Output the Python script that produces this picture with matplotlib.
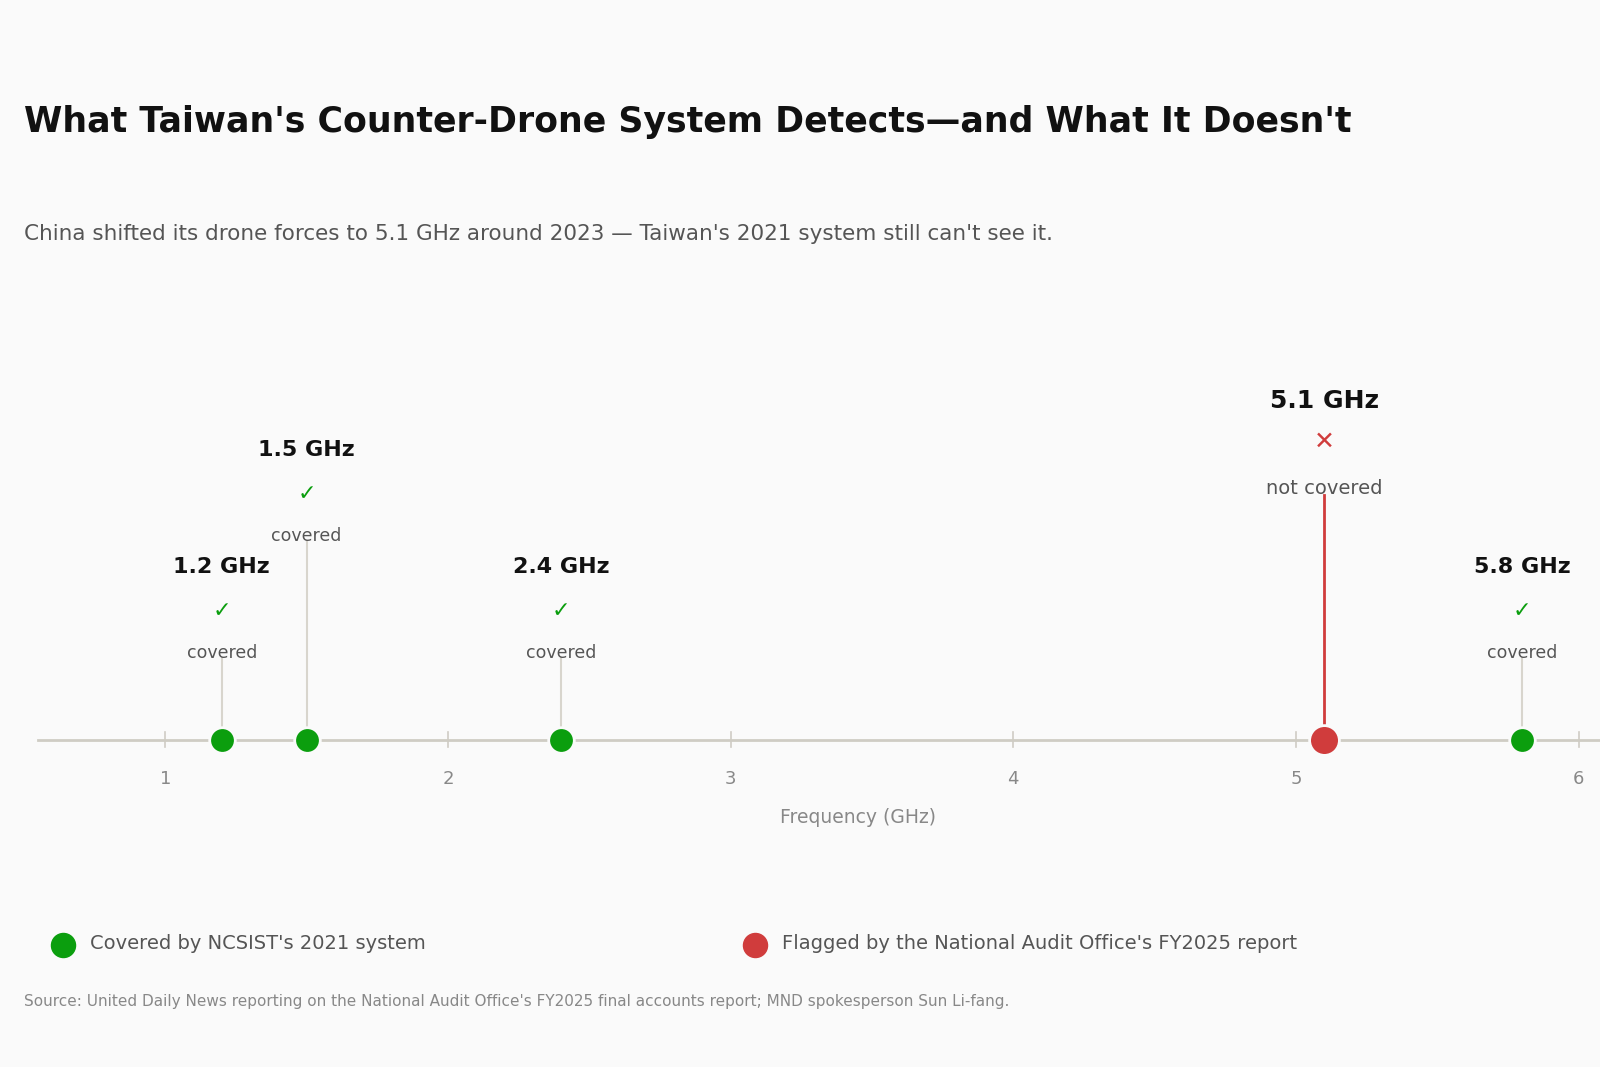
import matplotlib
matplotlib.use("Agg")
import matplotlib.pyplot as plt

freqs = [1.2, 1.5, 2.4, 5.1, 5.8]
labels = ["1.2 GHz", "1.5 GHz", "2.4 GHz", "5.1 GHz", "5.8 GHz"]
covered = [True, True, True, False, True]
stem_top = [645, 530, 645, 485, 645]  # pixel heights of label stacks (1568x1046 frame)
ticks = [1, 2, 3, 4, 5, 6]

GREEN = "#0b9e0e"
RED = "#d03c3c"
BG = "#fafafa"
plt.rcParams['font.family'] = ['DejaVu Sans']

W, H = 1568, 1046
fig = plt.figure(figsize=(16, 10.67), dpi=100, facecolor=BG)
ax = fig.add_axes([0, 0, 1, 1])
ax.set_facecolor(BG)
ax.set_xlim(0.415, 6.076)
ax.set_ylim(H, 0)
ax.axis("off")

def fx(px):
    return 0.415 + px / W * (6.076 - 0.415)

AXY = 725
ax.plot([0.549, 6.076], [AXY, AXY], color="#cfccc4", lw=2, zorder=1)
for t in ticks:
    ax.plot([t, t], [AXY - 7, AXY + 7], color="#cfccc4", lw=1.2, zorder=1)
    ax.text(t, 764, str(t), ha="center", va="center", fontsize=13, color="#888888")
ax.text(fx(841), 801, "Frequency (GHz)", ha="center", va="center", fontsize=13.5, color="#888888")

for f, lab, cov, top in zip(freqs, labels, covered, stem_top):
    col = GREEN if cov else RED
    if cov:
        ax.plot([f, f], [AXY, top], color="#d8d5cd", lw=1.5, zorder=2)
        ax.scatter([f], [AXY], s=340, color=col, zorder=3, edgecolors=BG, linewidths=2)
        ax.text(f, top - 89, lab, ha="center", va="center", fontsize=16, fontweight="bold", color="#111111")
        ax.text(f, top - 46, "✓", ha="center", va="center", fontsize=16, color=col)
        ax.text(f, top - 5, "covered", ha="center", va="center", fontsize=12.5, color="#555555")
    else:
        ax.plot([f, f], [AXY, top], color=col, lw=2, zorder=2)
        ax.scatter([f], [AXY], s=460, color=col, zorder=3, edgecolors=BG, linewidths=2)
        ax.text(f, top - 92, lab, ha="center", va="center", fontsize=18, fontweight="bold", color="#111111")
        ax.text(f, top - 52, "✕", ha="center", va="center", fontsize=18, color=col)
        ax.text(f, top - 6, "not covered", ha="center", va="center", fontsize=14, color="#555555")

ax.text(fx(24), 120, "What Taiwan's Counter-Drone System Detects—and What It Doesn't",
        fontsize=25, fontweight="bold", color="#111111", va="center")
ax.text(fx(24), 229,
        "China shifted its drone forces to 5.1 GHz around 2023 — Taiwan's 2021 system still can't see it.",
        fontsize=15.5, color="#555555", va="center")

ax.scatter([fx(62)], [926], s=300, color=GREEN)
ax.text(fx(88), 925, "Covered by NCSIST's 2021 system", fontsize=14, color="#555555", va="center")
ax.scatter([fx(740)], [926], s=300, color=RED)
ax.text(fx(766), 925, "Flagged by the National Audit Office's FY2025 report", fontsize=14, color="#555555", va="center")

ax.text(fx(24), 982,
        "Source: United Daily News reporting on the National Audit Office's FY2025 final accounts report; MND spokesperson Sun Li-fang.",
        fontsize=11, color="#888888", va="center")

fig.savefig("out.png", dpi=100, facecolor=BG)
